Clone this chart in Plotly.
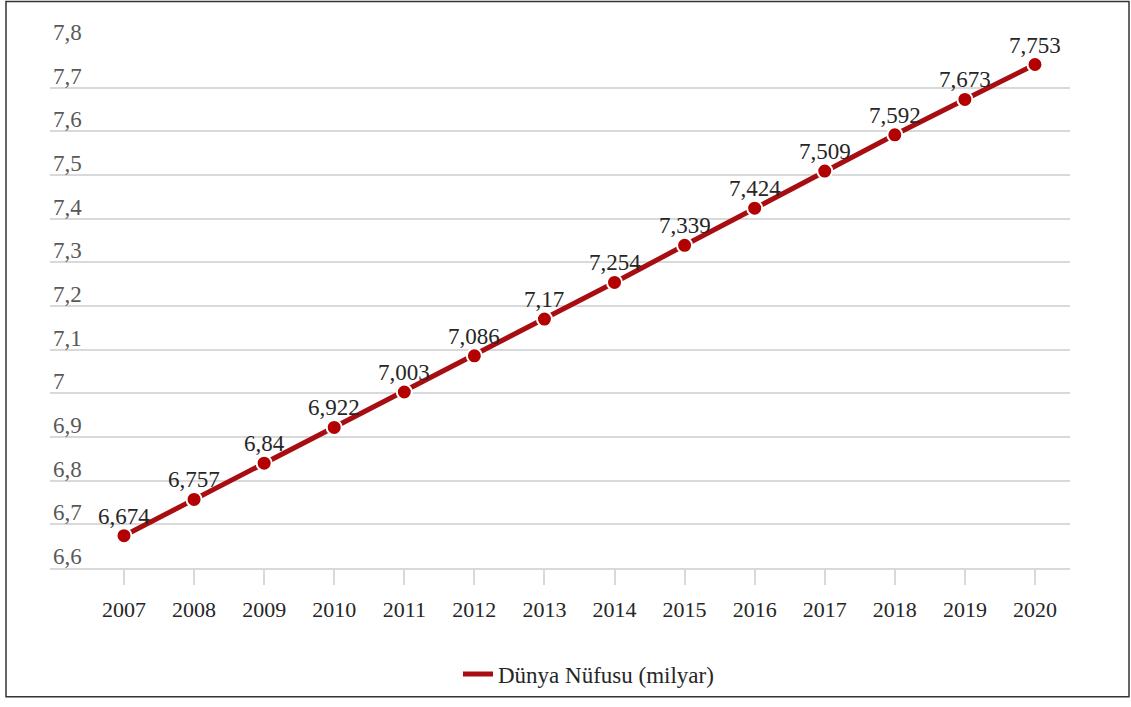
import plotly.graph_objects as go

years = [2007, 2008, 2009, 2010, 2011, 2012, 2013, 2014, 2015, 2016, 2017, 2018, 2019, 2020]
population = [6.674, 6.757, 6.84, 6.922, 7.003, 7.086, 7.17, 7.254, 7.339, 7.424, 7.509, 7.592, 7.673, 7.753]
labels = ["6,674", "6,757", "6,84", "6,922", "7,003", "7,086", "7,17", "7,254", "7,339", "7,424", "7,509", "7,592", "7,673", "7,753"]
y_ticks = [6.6, 6.7, 6.8, 6.9, 7.0, 7.1, 7.2, 7.3, 7.4, 7.5, 7.6, 7.7, 7.8]
y_tick_text = ["6,6", "6,7", "6,8", "6,9", "7", "7,1", "7,2", "7,3", "7,4", "7,5", "7,6", "7,7", "7,8"]
series_name = "Dünya Nüfusu (milyar)"

FONT = "Liberation Serif"
RED = "#a80d12"

fig = go.Figure()
fig.add_trace(go.Scatter(
    x=years, y=population, mode="lines", name=series_name,
    line=dict(color=RED, width=5), showlegend=True, hoverinfo="skip"))
fig.add_trace(go.Scatter(
    x=years, y=population, mode="markers", name=series_name,
    marker=dict(color="#b30000", size=15, line=dict(color="white", width=2)),
    showlegend=False))

for x, y, t in zip(years, population, labels):
    fig.add_annotation(x=x, y=y, text=t, showarrow=False,
                       xanchor="center", yanchor="bottom", yshift=5,
                       font=dict(family=FONT, size=23, color="#262626"))

W, H = 1131, 707
L, R, T, B = 50, 61, 44, 134
pw, ph = W - L - R, H - T - B

def px_x(p):
    return (p - L) / pw

def px_y(p):
    return (H - B - p) / ph

fig.update_layout(
    width=W, height=H,
    margin=dict(l=L, r=R, t=T, b=B),
    paper_bgcolor="white", plot_bgcolor="white",
    font=dict(family=FONT, size=22, color="#404040"),
    showlegend=True,
    legend=dict(orientation="h", x=px_x(458), xanchor="left",
                y=px_y(680), yanchor="middle",
                font=dict(family=FONT, size=23, color="#262626")),
    xaxis=dict(
        range=[2005.944, 2020.5], tickvals=years, ticktext=[str(y) for y in years],
        showgrid=False, showline=True, linecolor="#d9d9d9", linewidth=2,
        ticks="outside", ticklen=15, tickcolor="#d9d9d9", tickwidth=2,
        ticklabelstandoff=6,
        tickfont=dict(family=FONT, size=22, color="#262626"), zeroline=False),
    yaxis=dict(
        range=[6.6, 7.8], tickvals=y_ticks, ticktext=y_tick_text,
        showgrid=True, gridcolor="#d9d9d9", gridwidth=1.5, zeroline=False,
        ticklabelposition="inside top", ticklabeloverflow="allow",
        ticklabelshift=4,
        tickfont=dict(family=FONT, size=23, color="#595959")),
    shapes=[dict(type="rect", xref="paper", yref="paper",
                 x0=px_x(6), x1=px_x(1129), y0=px_y(703), y1=px_y(1),
                 line=dict(color="#333333", width=1.5), layer="above")],
)

fig.write_html("out.html")
